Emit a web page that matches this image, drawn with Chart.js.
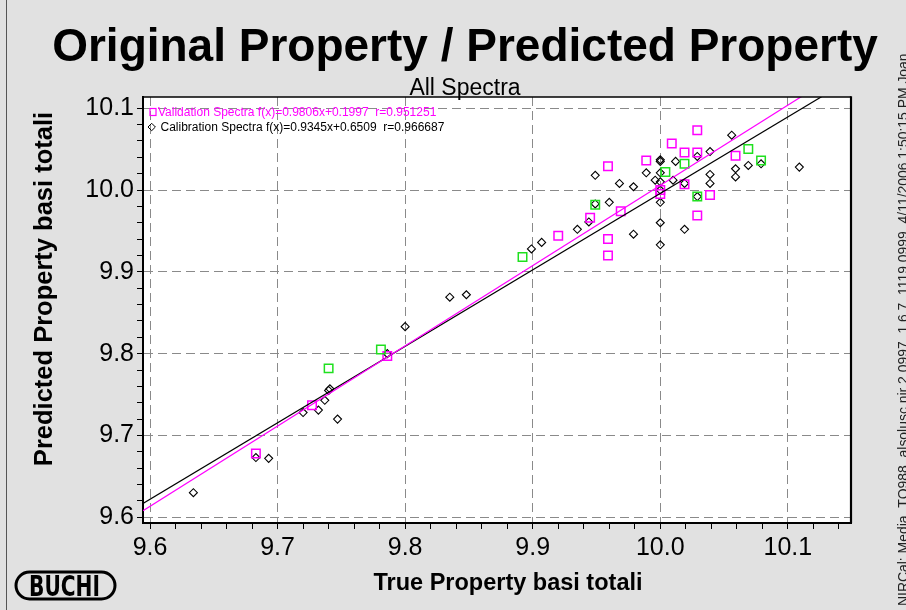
<!DOCTYPE html>
<html>
<head>
<meta charset="utf-8">
<script src="https://cdn.jsdelivr.net/npm/chart.js@4.4.1/dist/chart.umd.min.js"></script>
<style>
  html, body { margin: 0; padding: 0; background: #e1e1e1; }
  canvas { display: block; }
</style>
</head>
<body>
<canvas id="chart" width="906" height="610"></canvas>
<script>
// Calibration spectra: true vs predicted "basi totali"
const calibTrue = [9.634, 9.683, 9.693, 9.720, 9.732, 9.737, 9.740, 9.741, 9.747, 9.786,
                   9.800, 9.835, 9.848, 9.899, 9.907, 9.935, 9.944, 9.949, 9.949, 9.960,
                   9.968, 9.979, 9.979, 9.989, 9.996, 10.000, 10.000, 10.000, 10.000, 10.000,
                   10.000, 10.000, 10.000, 10.010, 10.012, 10.019, 10.019, 10.029, 10.029, 10.039,
                   10.039, 10.039, 10.056, 10.059, 10.059, 10.069, 10.079, 10.109];
const calibPred = [9.630, 9.673, 9.672, 9.728, 9.731, 9.743, 9.755, 9.757, 9.720, 9.800,
                   9.833, 9.869, 9.872, 9.928, 9.936, 9.952, 9.961, 9.983, 10.018, 9.985,
                   10.008, 10.004, 9.946, 10.021, 10.012, 10.037, 10.035, 10.021, 10.010, 10.000,
                   9.985, 9.960, 9.933, 10.012, 10.035, 10.008, 9.952, 10.041, 9.992, 10.047,
                   10.019, 10.008, 10.067, 10.026, 10.016, 10.030, 10.032, 10.028];

// Validation spectra
const validTrue = [9.683, 9.727, 9.786, 9.920, 9.945, 9.959, 9.959, 9.959, 9.969, 9.989,
                   10.000, 10.000, 10.009, 10.019, 10.019, 10.029, 10.029, 10.029, 10.039, 10.059];
const validPred = [9.678, 9.737, 9.797, 9.944, 9.966, 10.029, 9.940, 9.920, 9.974, 10.036,
                   10.000, 9.995, 10.057, 10.046, 10.007, 10.073, 10.046, 9.969, 9.994, 10.042];

// Spectra marked in green
const markedTrue = [9.740, 9.781, 9.892, 9.949, 10.004, 10.019, 10.029, 10.069, 10.079];
const markedPred = [9.782, 9.805, 9.918, 9.982, 10.022, 10.032, 9.992, 10.050, 10.036];

// Regression results: [slope, intercept, r]
const validFit = [0.9806, 0.1997, 0.951251];
const calibFit = [0.9345, 0.6509, 0.966687];

// Axis labels and ranges
const xTickLabels = ['9.6', '9.7', '9.8', '9.9', '10.0', '10.1'];
const yTickLabels = ['9.6', '9.7', '9.8', '9.9', '10.0', '10.1'];
const xRange = [9.5945, 10.1495];
const yRange = [9.5930, 10.1137];
const minorStep = 0.02;

const FONT = '"Liberation Sans", Arial, sans-serif';
const MAGENTA = '#ff00ff';
const GREEN = '#1fe01f';

const pts = (xs, ys) => xs.map((x, i) => ({ x, y: ys[i] }));
const fitLine = (fit) => xRange.map(x => ({ x, y: fit[0] * x + fit[1] }));

function tickValues(range, labels) {
  const first = parseFloat(labels[0]);
  const vals = [];
  for (let k = 0; ; k++) {
    const v = Math.round((first + k * minorStep) * 1000) / 1000;
    if (v > range[1]) break;
    vals.push({ value: v });
  }
  return vals;
}
const labelFor = (labels) => (v) => {
  const hit = labels.find(l => Math.abs(parseFloat(l) - v) < 1e-6);
  return hit || '';
};
const isMajor = (labels, v) => labels.some(l => Math.abs(parseFloat(l) - v) < 1e-6);

const decor = {
  id: 'decor',
  beforeDraw(chart) {
    const { ctx, chartArea: a, width, height } = chart;
    ctx.save();
    ctx.fillStyle = '#e1e1e1';
    ctx.fillRect(0, 0, width, height);
    ctx.fillStyle = '#ffffff';
    ctx.fillRect(a.left, a.top, a.right - a.left, a.bottom - a.top);
    ctx.restore();
  },
  afterDraw(chart) {
    const { ctx, chartArea: a } = chart;
    ctx.save();

    // frame: top and right edges of the plot
    ctx.strokeStyle = '#000';
    ctx.lineWidth = 1.5;
    ctx.beginPath();
    ctx.moveTo(a.left, a.top);
    ctx.lineTo(a.right, a.top);
    ctx.stroke();
    ctx.lineWidth = 2.2;
    ctx.beginPath();
    ctx.moveTo(a.right, a.top - 0.75);
    ctx.lineTo(a.right, a.bottom);
    ctx.stroke();

    // outer panel edge
    ctx.strokeStyle = '#555';
    ctx.lineWidth = 1;
    ctx.beginPath();
    ctx.moveTo(6.5, 0);
    ctx.lineTo(6.5, 610);
    ctx.stroke();

    // titles
    ctx.fillStyle = '#000';
    ctx.textAlign = 'center';
    ctx.textBaseline = 'alphabetic';
    ctx.font = 'bold 46px ' + FONT;
    ctx.fillText('Original Property / Predicted Property', 465, 61);
    ctx.font = '23px ' + FONT;
    ctx.fillText('All Spectra', 465, 95);

    // axis titles
    ctx.font = 'bold 23.5px ' + FONT;
    ctx.fillText('True Property basi totali', 508, 590);
    ctx.save();
    ctx.font = 'bold 25.5px ' + FONT;
    ctx.translate(52, 289);
    ctx.rotate(-Math.PI / 2);
    ctx.fillText('Predicted Property basi totali', 0, 0);
    ctx.restore();

    // legend inside the plot
    ctx.textAlign = 'left';
    ctx.font = '12px ' + FONT;
    ctx.strokeStyle = MAGENTA;
    ctx.lineWidth = 1.2;
    ctx.strokeRect(150, 108.5, 6, 7);
    ctx.fillStyle = MAGENTA;
    ctx.fillText('Validation Spectra f(x)=' + validFit[0].toFixed(4) + 'x+' + validFit[1].toFixed(4) +
                 '  r=' + validFit[2].toFixed(6), 158, 116);
    ctx.strokeStyle = '#000';
    ctx.lineWidth = 1;
    ctx.beginPath();
    ctx.moveTo(148, 127); ctx.lineTo(151.7, 123.3); ctx.lineTo(155.4, 127); ctx.lineTo(151.7, 130.7);
    ctx.closePath();
    ctx.stroke();
    ctx.fillStyle = '#000';
    ctx.fillText('Calibration Spectra f(x)=' + calibFit[0].toFixed(4) + 'x+' + calibFit[1].toFixed(4) +
                 '  r=' + calibFit[2].toFixed(6), 160.5, 131);

    // BUCHI logo
    const lx0 = 16, lx1 = 115, ly0 = 572, ly1 = 599, lr = (ly1 - ly0) / 2;
    ctx.strokeStyle = '#000';
    ctx.lineWidth = 3;
    ctx.beginPath();
    ctx.moveTo(lx0 + lr, ly0);
    ctx.lineTo(lx1 - lr, ly0);
    ctx.arc(lx1 - lr, ly0 + lr, lr, -Math.PI / 2, Math.PI / 2);
    ctx.lineTo(lx0 + lr, ly1);
    ctx.arc(lx0 + lr, ly0 + lr, lr, Math.PI / 2, Math.PI * 1.5);
    ctx.closePath();
    ctx.stroke();
    ctx.save();
    ctx.font = 'bold 29px "DejaVu Sans", sans-serif';
    const w = ctx.measureText('BUCHI').width;
    ctx.translate(29, 596);
    ctx.scale(71 / w, 1);
    ctx.fillStyle = '#000';
    ctx.fillText('BUCHI', 0, 0);
    ctx.restore();

    // file information along the right edge
    const info = 'NIRCal: Media_TQ988_alsolusc.nir 2.0997  1.6.7  1119 0999  4/11/2006 1:50:15 PM Joan';
    ctx.save();
    ctx.font = '15px ' + FONT;
    const iw = ctx.measureText(info).width;
    const fs = Math.min(16, 15 * 553 / iw);
    ctx.font = fs.toFixed(2) + 'px ' + FONT;
    ctx.fillStyle = '#222';
    ctx.translate(908, 606);
    ctx.rotate(-Math.PI / 2);
    ctx.fillText(info, 0, 0);
    ctx.restore();

    ctx.restore();
  }
};

const gridColor = (labels) => (ctx) =>
  (ctx.tick && isMajor(labels, ctx.tick.value)) ? '#8a8a8a' : 'rgba(0,0,0,0)';

new Chart(document.getElementById('chart'), {
  type: 'scatter',
  data: {
    datasets: [
      {
        label: 'Validation fit',
        type: 'line',
        data: fitLine(validFit),
        borderColor: MAGENTA,
        borderWidth: 1.2,
        pointRadius: 0,
        fill: false,
        order: 1
      },
      {
        label: 'Calibration fit',
        type: 'line',
        data: fitLine(calibFit),
        borderColor: '#000',
        borderWidth: 1.2,
        pointRadius: 0,
        fill: false,
        order: 2
      },
      {
        label: 'Calibration Spectra',
        data: pts(calibTrue, calibPred),
        pointStyle: 'rectRot',
        pointRadius: 4,
        borderColor: '#000',
        backgroundColor: 'rgba(0,0,0,0)',
        borderWidth: 1.1,
        order: 5
      },
      {
        label: 'Validation Spectra',
        data: pts(validTrue, validPred),
        pointStyle: 'rect',
        pointRadius: 6,
        borderColor: MAGENTA,
        backgroundColor: 'rgba(0,0,0,0)',
        borderWidth: 1.5,
        order: 4
      },
      {
        label: 'Marked Spectra',
        data: pts(markedTrue, markedPred),
        pointStyle: 'rect',
        pointRadius: 6,
        borderColor: GREEN,
        backgroundColor: 'rgba(0,0,0,0)',
        borderWidth: 1.5,
        order: 3
      }
    ]
  },
  options: {
    responsive: false,
    animation: false,
    devicePixelRatio: 1,
    layout: { padding: { top: 97, right: 55, left: 0, bottom: 0 } },
    plugins: {
      legend: { display: false },
      tooltip: { enabled: false },
      title: { display: false }
    },
    scales: {
      x: {
        type: 'linear',
        min: xRange[0],
        max: xRange[1],
        afterBuildTicks: (s) => { s.ticks = tickValues(xRange, xTickLabels); },
        afterFit: (s) => { s.height = 87; },
        ticks: {
          autoSkip: false,
          maxRotation: 0,
          padding: 4,
          color: '#000',
          font: { family: FONT, size: 25 },
          callback: labelFor(xTickLabels)
        },
        grid: {
          color: gridColor(xTickLabels),
          lineWidth: 1,
          tickColor: '#000',
          tickLength: 6,
          tickWidth: 1
        },
        border: { display: true, color: '#000', width: 2, dash: [9, 5] }
      },
      y: {
        type: 'linear',
        min: yRange[0],
        max: yRange[1],
        afterBuildTicks: (s) => { s.ticks = tickValues(yRange, yTickLabels); },
        afterFit: (s) => { s.width = 143; },
        ticks: {
          autoSkip: false,
          padding: 3,
          color: '#000',
          font: { family: FONT, size: 25 },
          callback: labelFor(yTickLabels)
        },
        grid: {
          color: gridColor(yTickLabels),
          lineWidth: 1,
          tickColor: '#000',
          tickLength: 6,
          tickWidth: 1
        },
        border: { display: true, color: '#000', width: 2, dash: [9, 5] }
      }
    }
  },
  plugins: [decor]
});
</script>
</body>
</html>
